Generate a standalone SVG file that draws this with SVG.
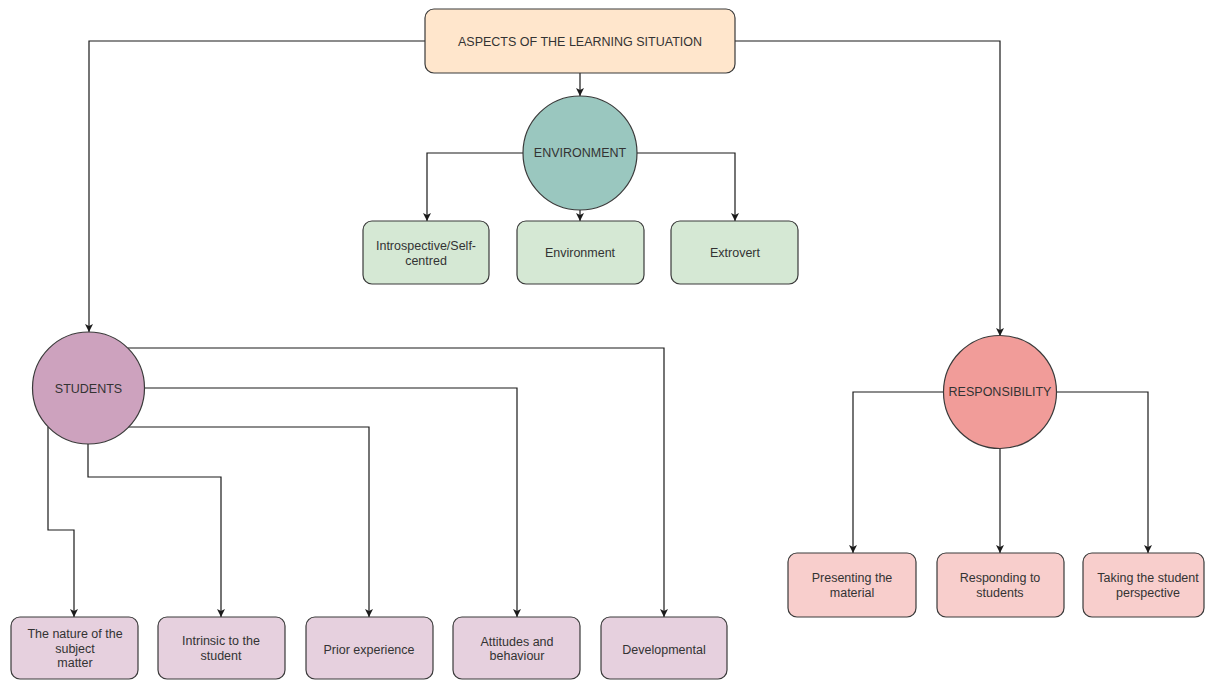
<svg xmlns="http://www.w3.org/2000/svg" width="1206" height="680" viewBox="0 0 1206 680">
<defs>
<style>
.edge{fill:none;stroke:#1a1a1a;stroke-width:1.2}
.node{stroke:#3a3a3a;stroke-width:1.2}
text{font-family:"Liberation Sans",Arial,sans-serif;font-size:12.5px;fill:#333;text-anchor:middle;dominant-baseline:central}
.top{fill:#FFE6CC}
.env{fill:#9AC7BF}
.grn{fill:#D5E8D4}
.stu{fill:#CDA2BE}
.pur{fill:#E6D0DE}
.res{fill:#F19C99}
.red{fill:#F8CECC}
</style>
<marker id="arr" viewBox="0 0 10 10" refX="10" refY="5" markerWidth="8" markerHeight="8" markerUnits="userSpaceOnUse" orient="auto">
<path d="M0,0 L10,5 L0,10 L2.5,5 Z" fill="#1a1a1a"/>
</marker>
</defs>
<rect width="1206" height="680" fill="#fff"/>
<g id="connectors">
<path class="edge" d="M425,41 H89 V332" marker-end="url(#arr)"/>
<path class="edge" d="M735,41 H1000 V336" marker-end="url(#arr)"/>
<path class="edge" d="M580,73 V96" marker-end="url(#arr)"/>
<path class="edge" d="M523,153 H427 V221" marker-end="url(#arr)"/>
<path class="edge" d="M580,200 V221" marker-end="url(#arr)"/>
<path class="edge" d="M637,153 H735 V221" marker-end="url(#arr)"/>
<path class="edge" d="M128,348 H664 V617" marker-end="url(#arr)"/>
<path class="edge" d="M144,388 H517 V617" marker-end="url(#arr)"/>
<path class="edge" d="M128,427 H369 V617" marker-end="url(#arr)"/>
<path class="edge" d="M88,444 V477 H221 V617" marker-end="url(#arr)"/>
<path class="edge" d="M48,427 V530 H74 V617" marker-end="url(#arr)"/>
<path class="edge" d="M943,392 H853 V553" marker-end="url(#arr)"/>
<path class="edge" d="M1000,448 V553" marker-end="url(#arr)"/>
<path class="edge" d="M1056,392 H1148 V553" marker-end="url(#arr)"/>
</g>
<g id="aspects"><rect class="node top" x="425" y="9" width="310" height="64" rx="9"/><text x="580" y="42">ASPECTS OF THE LEARNING SITUATION</text></g>
<g id="environment"><circle class="node env" cx="580" cy="153" r="57"/><text x="580" y="153">ENVIRONMENT</text></g>
<g id="introspective"><rect class="node grn" x="363" y="221" width="126" height="63" rx="9"/><text x="426" y="246">Introspective/Self-</text><text x="426" y="261">centred</text></g>
<g id="environment-box"><rect class="node grn" x="517" y="221" width="127" height="63" rx="9"/><text x="580" y="253">Environment</text></g>
<g id="extrovert"><rect class="node grn" x="671" y="221" width="127" height="63" rx="9"/><text x="735" y="253">Extrovert</text></g>
<g id="students"><circle class="node stu" cx="88.5" cy="388" r="56"/><text x="88.5" y="389">STUDENTS</text></g>
<g id="nature"><rect class="node pur" x="11" y="617" width="127" height="62" rx="9"/><text x="75" y="634">The nature of the</text><text x="75" y="649">subject</text><text x="75" y="663">matter</text></g>
<g id="intrinsic"><rect class="node pur" x="158" y="617" width="127" height="62" rx="9"/><text x="221" y="641">Intrinsic to the</text><text x="221" y="656">student</text></g>
<g id="prior"><rect class="node pur" x="306" y="617" width="127" height="62" rx="9"/><text x="369" y="650">Prior experience</text></g>
<g id="attitudes"><rect class="node pur" x="453" y="617" width="127" height="62" rx="9"/><text x="517" y="642">Attitudes and</text><text x="517" y="656">behaviour</text></g>
<g id="developmental"><rect class="node pur" x="601" y="617" width="126" height="62" rx="9"/><text x="664" y="650">Developmental</text></g>
<g id="responsibility"><circle class="node res" cx="1000" cy="392" r="56.5"/><text x="1000" y="392">RESPONSIBILITY</text></g>
<g id="presenting"><rect class="node red" x="788" y="553" width="128" height="64" rx="9"/><text x="852" y="578">Presenting the</text><text x="852" y="593">material</text></g>
<g id="responding"><rect class="node red" x="937" y="553" width="127" height="64" rx="9"/><text x="1000" y="578">Responding to</text><text x="1000" y="593">students</text></g>
<g id="taking"><rect class="node red" x="1083" y="553" width="121" height="64" rx="9"/><text x="1148" y="578">Taking the student</text><text x="1148" y="593">perspective</text></g>
</svg>
